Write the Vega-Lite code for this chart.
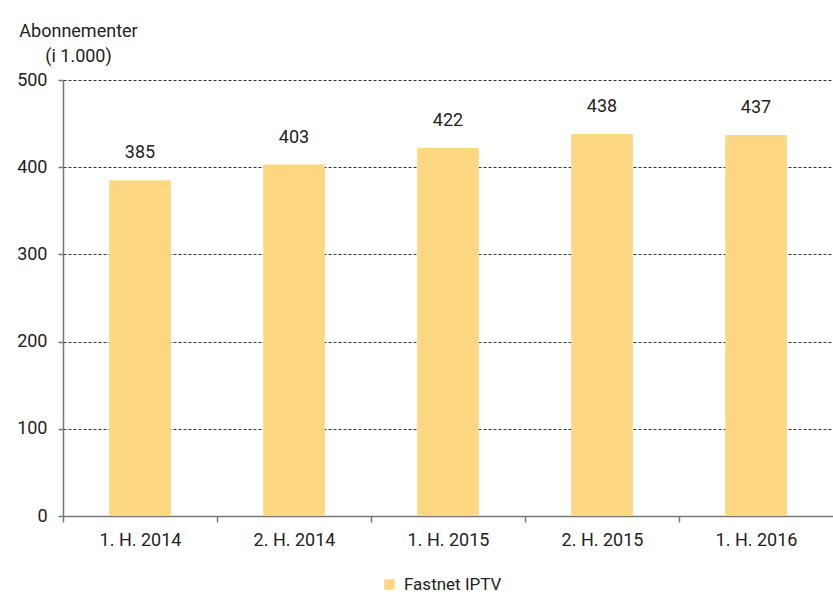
{
  "$schema": "https://vega.github.io/schema/vega-lite/v6.json",
  "width": 770,
  "height": 436,
  "autosize": {"type": "none"},
  "padding": {"left": 63, "top": 80, "right": 0, "bottom": 91},
  "background": "white",
  "config": {
    "view": {"stroke": null},
    "font": "Roboto",
    "text": {"font": "Roboto"}
  },
  "data": {
    "values": [
      {"periode": "1. H. 2014", "serie": "Fastnet IPTV", "abonnementer": 385},
      {"periode": "2. H. 2014", "serie": "Fastnet IPTV", "abonnementer": 403},
      {"periode": "1. H. 2015", "serie": "Fastnet IPTV", "abonnementer": 422},
      {"periode": "2. H. 2015", "serie": "Fastnet IPTV", "abonnementer": 438},
      {"periode": "1. H. 2016", "serie": "Fastnet IPTV", "abonnementer": 437}
    ]
  },
  "encoding": {
    "x": {
      "field": "periode",
      "type": "nominal",
      "sort": null,
      "scale": {"paddingInner": 0.6, "paddingOuter": 0.3},
      "axis": {
        "title": null,
        "labelAngle": 0,
        "labelFontSize": 18,
        "labelColor": "#222222",
        "labelPadding": 9,
        "ticks": true,
        "tickOffset": -77,
        "labelOffset": 77,
        "tickSize": 6,
        "tickColor": "#777777",
        "tickWidth": 1.5,
        "domainColor": "#777777",
        "domainWidth": 1.5,
        "grid": false
      }
    },
    "y": {
      "field": "abonnementer",
      "type": "quantitative",
      "scale": {"domain": [0, 500]},
      "axis": {
        "values": [0, 100, 200, 300, 400, 500],
        "title": ["Abonnementer", "(i 1.000)"],
        "titleAngle": 0,
        "titleAlign": "center",
        "titleBaseline": "top",
        "titleX": 15,
        "titleY": -58,
        "titleFontSize": 18,
        "titleFontWeight": "normal",
        "titleColor": "#222222",
        "titleLineHeight": 25,
        "labelFontSize": 18,
        "labelColor": "#222222",
        "labelPadding": 11,
        "tickSize": 5,
        "tickColor": "#777777",
        "tickWidth": 1.5,
        "domainColor": "#777777",
        "domainWidth": 1.5,
        "grid": true,
        "gridColor": "#000000",
        "gridDash": [3, 2],
        "gridWidth": 0.8
      }
    }
  },
  "layer": [
    {
      "mark": {"type": "bar", "color": "#FDD782"},
      "encoding": {
        "color": {
          "field": "serie",
          "type": "nominal",
          "scale": {"range": ["#FDD782"]},
          "legend": {
            "title": null,
            "orient": "none",
            "legendX": 318,
            "legendY": 496,
            "symbolType": "square",
            "symbolSize": 110,
            "symbolStrokeWidth": 0,
            "labelFontSize": 17,
            "labelColor": "#222222",
            "labelOffset": 6
          }
        }
      }
    },
    {
      "mark": {"type": "text", "baseline": "bottom", "dy": -18, "fontSize": 18, "color": "#222222"},
      "encoding": {
        "text": {"field": "abonnementer", "type": "quantitative"}
      }
    }
  ]
}
